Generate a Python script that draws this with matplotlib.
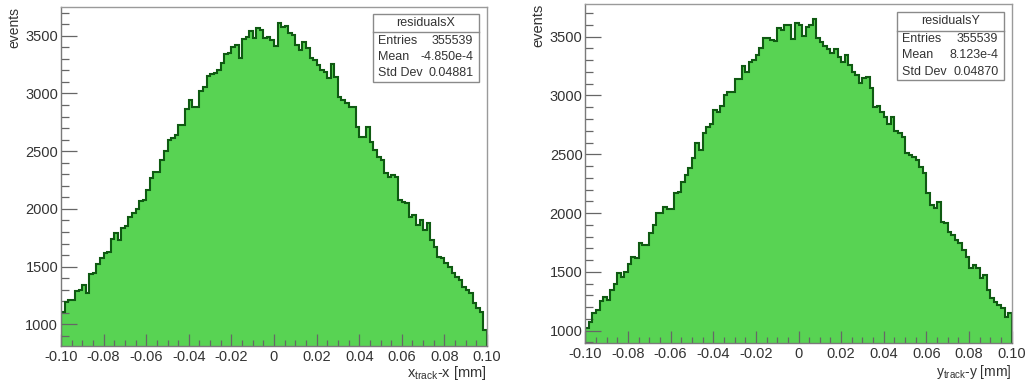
import matplotlib
matplotlib.use("Agg")
import matplotlib.pyplot as plt
from matplotlib.patches import Rectangle
from matplotlib.lines import Line2D
from matplotlib.ticker import MultipleLocator, FixedLocator, FixedFormatter
import numpy as np

plt.rcParams["font.family"] = ["Liberation Sans", "DejaVu Sans"]
plt.rcParams["mathtext.fontset"] = "custom"
plt.rcParams["mathtext.rm"] = "Liberation Sans"
plt.rcParams["mathtext.it"] = "Liberation Sans:italic"

# ---- histogram data -------------------------------------------------------
x_lo, x_hi = -0.10, 0.10
n_bins = 120

counts_resx = [
    1109, 1196, 1210, 1212, 1289, 1298, 1340, 1274, 1436, 1442,
    1523, 1572, 1621, 1630, 1736, 1794, 1730, 1832, 1852, 1927,
    1962, 1997, 2071, 2077, 2163, 2264, 2317, 2322, 2424, 2505,
    2597, 2610, 2640, 2727, 2727, 2863, 2944, 2886, 2886, 3024,
    3058, 3150, 3170, 3180, 3204, 3262, 3342, 3348, 3400, 3420,
    3305, 3470, 3492, 3541, 3478, 3565, 3551, 3478, 3492, 3464,
    3412, 3614, 3579, 3585, 3521, 3507, 3420, 3377, 3449, 3392,
    3305, 3291, 3247, 3204, 3189, 3132, 3256, 3146, 2973, 2944,
    2915, 2886, 2886, 2712, 2626, 2626, 2712, 2582, 2510, 2452,
    2424, 2308, 2279, 2294, 2279, 2077, 2062, 2048, 1933, 1947,
    1860, 1904, 1817, 1875, 1730, 1673, 1586, 1572, 1528, 1499,
    1442, 1412, 1384, 1326, 1297, 1268, 1182, 1138, 1109, 950,
]

counts_resy = [
    1020, 1077, 1148, 1176, 1255, 1289, 1261, 1346, 1397, 1488,
    1459, 1502, 1567, 1629, 1615, 1743, 1729, 1729, 1828, 1899,
    1998, 1998, 2054, 2035, 2035, 2168, 2182, 2266, 2324, 2381,
    2466, 2593, 2536, 2678, 2735, 2758, 2877, 2863, 2907, 3004,
    3033, 3033, 3138, 3140, 3251, 3202, 3287, 3301, 3344, 3401,
    3486, 3486, 3472, 3460, 3571, 3560, 3599, 3599, 3478, 3619,
    3599, 3506, 3585, 3599, 3648, 3486, 3457, 3421, 3393, 3359,
    3393, 3330, 3287, 3344, 3259, 3202, 3174, 3104, 3146, 3155,
    3061, 2905, 2910, 2862, 2820, 2757, 2814, 2701, 2678, 2644,
    2508, 2494, 2480, 2451, 2394, 2338, 2171, 2069, 2041, 2097,
    1927, 1913, 1842, 1814, 1771, 1743, 1686, 1629, 1531, 1559,
    1531, 1446, 1474, 1346, 1276, 1248, 1219, 1191, 1119, 1148,
]

x_tick_values = [-0.10, -0.08, -0.06, -0.04, -0.02, 0.0, 0.02, 0.04, 0.06, 0.08, 0.10]
x_tick_labels = ["-0.10", "-0.08", "-0.06", "-0.04", "-0.02", "0",
                 "0.02", "0.04", "0.06", "0.08", "0.10"]
y_tick_values = [1000, 1500, 2000, 2500, 3000, 3500]
y_tick_labels = ["1000", "1500", "2000", "2500", "3000", "3500"]

names = ["residualsX", "residualsY"]
entries = ["355539", "355539"]
means = ["-4.850e-4", "8.123e-4"]
std_devs = ["0.04881", "0.04870"]
x_titles = [r"x$_{\mathrm{track}}$-x [mm]", r"y$_{\mathrm{track}}$-y [mm]"]

# ---- styling --------------------------------------------------------------
W, H = 1027, 383
FILL = "#58d353"
EDGE = "#0f5a12"
TXT = "#333333"
AX_GREY = "#666666"


def fx(x):
    return x / W


def fy(y):
    return 1 - y / H


fig = plt.figure(figsize=(W / 100, H / 100), dpi=100)
fig.patch.set_facecolor("white")

# pad geometry in pixels: left, right, top, bottom
frames = [(61.0, 487.0, 7.0, 345.7), (585.3, 1011.7, 4.0, 342.7)]
ylims = [(815, 3749), (898, 3778)]
# stats box geometry: left, right, top, bottom, separator
boxes = [(372.7, 479.3, 14.3, 81.7, 32.3), (897.3, 1004.3, 11.7, 80.0, 31.0)]
label_sizes = [10.0, 10.5]
xlabel_sizes = [10.5, 10.0]
xlabel_base = [376.5, 376.0]

edges = np.linspace(x_lo, x_hi, n_bins + 1)

for i, counts in enumerate([counts_resx, counts_resy]):
    l, r, t, b = frames[i]
    ax = fig.add_axes([fx(l), fy(b), (r - l) / W, (b - t) / H])
    ax.set_xlim(x_lo, x_hi)
    ax.set_ylim(*ylims[i])

    ax.stairs(counts, edges, baseline=0, fill=True, color=FILL, lw=0, zorder=1)
    ax.stairs(counts, edges, baseline=0, fill=False, color=EDGE, lw=1.5, zorder=2)

    for side in ["top", "right"]:
        ax.spines[side].set_color("#9a9a9a")
        ax.spines[side].set_linewidth(1.0)
    for side in ["left", "bottom"]:
        ax.spines[side].set_color("#7a7a7a")
        ax.spines[side].set_linewidth(1.0)
    for s in ax.spines.values():
        s.set_zorder(5)

    ax.xaxis.set_major_locator(FixedLocator(x_tick_values))
    ax.xaxis.set_major_formatter(FixedFormatter(x_tick_labels))
    ax.xaxis.set_minor_locator(MultipleLocator(0.005))
    ax.yaxis.set_major_locator(FixedLocator(y_tick_values))
    ax.yaxis.set_major_formatter(FixedFormatter(y_tick_labels))
    ax.yaxis.set_minor_locator(MultipleLocator(100))

    ax.tick_params(axis="both", which="both", direction="in", color=AX_GREY,
                   labelcolor=TXT, labelsize=10.5, top=False, right=False, zorder=6)
    ax.tick_params(axis="x", which="major", length=8.5, width=0.9, pad=2.8)
    ax.tick_params(axis="x", which="minor", length=4.0, width=0.9)
    ax.tick_params(axis="y", which="major", length=11.3, width=0.9, pad=2)
    ax.tick_params(axis="y", which="minor", length=5.8, width=0.9)

    # axis titles, aligned to the far ends of the axes
    fig.text(fx(l - 47), fy(t), "events", rotation=90, ha="center", va="top",
             fontsize=label_sizes[i], color=TXT)
    fig.text(fx(r), fy(xlabel_base[i]), x_titles[i], ha="right", va="baseline",
             fontsize=xlabel_sizes[i], color=TXT)

    # statistics box
    bl, br, bt, bb, bs = boxes[i]
    fig.add_artist(Rectangle((fx(bl), fy(bb)), (br - bl) / W, (bb - bt) / H,
                             transform=fig.transFigure, facecolor="white",
                             edgecolor="#8a8a8a", lw=1.0, zorder=10))
    fig.add_artist(Line2D([fx(bl), fx(br)], [fy(bs), fy(bs)],
                          transform=fig.transFigure, color="#8a8a8a",
                          lw=1.0, zorder=11))
    fs = 9.0
    fig.text(fx((bl + br) / 2), fy((bt + bs) / 2), names[i], ha="center",
             va="center", fontsize=fs, color=TXT, zorder=12)
    row_h = (bb - bs) / 3
    rows = [("Entries", entries[i]), ("Mean", means[i]), ("Std Dev", std_devs[i])]
    for k, (key, val) in enumerate(rows):
        yc = bs + row_h * (k + 0.5)
        fig.text(fx(bl + 5.0), fy(yc), key, ha="left", va="center",
                 fontsize=fs, color=TXT, zorder=12)
        fig.text(fx(br - 6.0), fy(yc), val, ha="right", va="center",
                 fontsize=fs, color=TXT, zorder=12)

fig.savefig("out.png", dpi=100, facecolor="white")
